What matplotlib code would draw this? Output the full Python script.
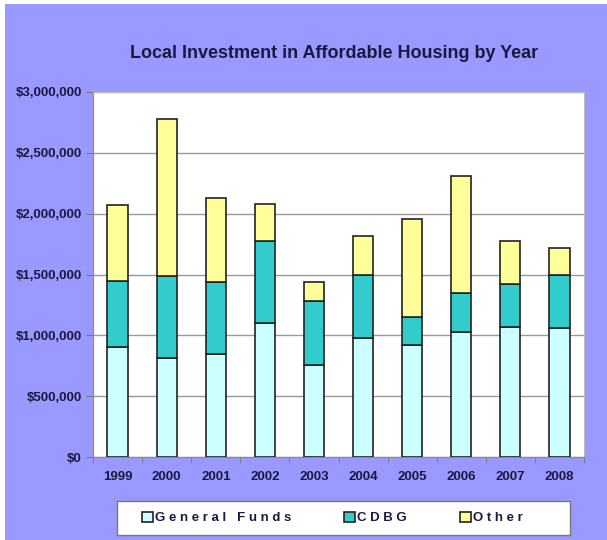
import numpy as np
import matplotlib.pyplot as plt
from matplotlib.patches import Rectangle
from matplotlib.ticker import FuncFormatter

# --- Data ---
years = ["1999", "2000", "2001", "2002", "2003", "2004", "2005", "2006", "2007", "2008"]
general_funds = [905000, 815000, 845000, 1100000, 760000, 980000, 920000, 1025000, 1070000, 1060000]
cdbg = [545000, 675000, 595000, 675000, 520000, 520000, 230000, 320000, 350000, 440000]
other = [620000, 1290000, 690000, 305000, 160000, 315000, 805000, 965000, 355000, 220000]

legend_labels = ["G e n e r a l   F u n d s", "C D B G", "O t h e r"]
colors = ["#CCFFFF", "#33CCCC", "#FFFF99"]

W, H = 607, 540
BG = "#9999FF"
TXT = "#1A1A40"

plt.rcParams['font.family'] = ['Liberation Sans', 'DejaVu Sans']

fig = plt.figure(figsize=(W / 100, H / 100), dpi=100, facecolor=BG)
# thin white strips on top and left edges
fig.patches.append(Rectangle((0, 1 - 4 / H), 1, 4 / H, transform=fig.transFigure,
                             facecolor="white", edgecolor="none"))
fig.patches.append(Rectangle((0, 0), 5 / W, 1, transform=fig.transFigure,
                             facecolor="white", edgecolor="none"))
# legend box
fig.patches.append(Rectangle((117 / W, 1 - 535 / H), (570 - 117) / W, 34 / H,
                             transform=fig.transFigure, facecolor="white",
                             edgecolor="#777777", linewidth=1))

ax = fig.add_axes([93 / W, 1 - 457 / H, (584 - 93) / W, (457 - 92) / H])
ax.set_facecolor("white")

x = np.arange(len(years))
gf = np.array(general_funds)
cd = np.array(cdbg)
ot = np.array(other)
bw = 0.41
kw = dict(width=bw, edgecolor="#222222", linewidth=1.2, zorder=3)
ax.bar(x, gf, color=colors[0], label=legend_labels[0], **kw)
ax.bar(x, cd, bottom=gf, color=colors[1], label=legend_labels[1], **kw)
ax.bar(x, ot, bottom=gf + cd, color=colors[2], label=legend_labels[2], **kw)

ax.set_xlim(-0.5, len(years) - 0.5)
ax.set_ylim(0, 3000000)
ax.set_yticks(np.arange(0, 3000001, 500000))
ax.yaxis.set_major_formatter(FuncFormatter(lambda v, p: f"${v:,.0f}"))
ax.grid(axis="y", color="#999999", linewidth=1, zorder=0)

ax.set_xticks(x)
ax.set_xticklabels(years)
ax.set_xticks(np.arange(-0.5, len(years), 1), minor=True)
ax.tick_params(axis="x", which="major", length=0, pad=10)
ax.tick_params(axis="x", which="minor", length=4, color="#777777")
ax.tick_params(axis="y", length=5, color="#777777", pad=3)
for lab in ax.get_xticklabels() + ax.get_yticklabels():
    lab.set_fontsize(9.5)
    lab.set_fontweight("bold")
    lab.set_color(TXT)

for s in ["top", "right"]:
    ax.spines[s].set_color("#BBBBBB")
for s in ["left", "bottom"]:
    ax.spines[s].set_color("#888888")

fig.text(334 / W, 1 - 54 / H, "Local Investment in Affordable Housing by Year",
         ha="center", va="center", fontsize=13, fontweight="bold", color=TXT)

leg = fig.legend(loc="center left", bbox_to_anchor=(142 / W, 1 - 518 / H),
                 ncol=3, frameon=False, handlelength=0.8, handleheight=0.8,
                 handletextpad=0.2, columnspacing=4.0, borderaxespad=0, borderpad=0,
                 prop={"weight": "bold", "size": 9.5})
for t in leg.get_texts():
    t.set_color(TXT)

fig.savefig("out.png", dpi=100, facecolor=fig.get_facecolor())
